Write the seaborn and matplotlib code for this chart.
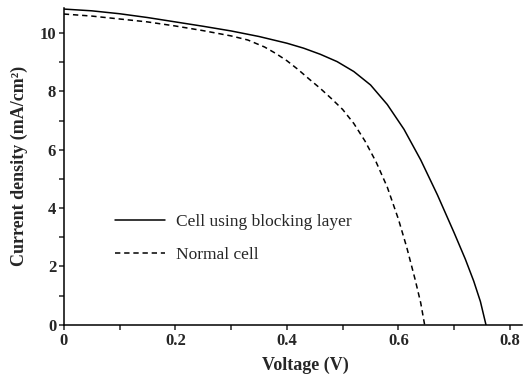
import numpy as np
import pandas as pd
import matplotlib
matplotlib.use('Agg')
import matplotlib.pyplot as plt
import seaborn as sns
from matplotlib.ticker import MultipleLocator, FuncFormatter

# J-V curves
v_block = [0.00, 0.05, 0.10, 0.15, 0.20, 0.25, 0.30, 0.35, 0.40, 0.43, 0.46,
           0.49, 0.52, 0.55, 0.58, 0.61, 0.64, 0.67, 0.70, 0.72, 0.735,
           0.747, 0.757]
j_block = [10.82, 10.76, 10.66, 10.53, 10.38, 10.23, 10.07, 9.88, 9.65, 9.48, 9.27,
           9.02, 8.68, 8.22, 7.55, 6.70, 5.65, 4.45, 3.15, 2.25, 1.50,
           0.80, 0.0]

v_normal = [0.00, 0.05, 0.10, 0.15, 0.20, 0.25, 0.30, 0.33, 0.36, 0.38, 0.40,
            0.42, 0.44, 0.46, 0.48, 0.50, 0.52, 0.54, 0.56, 0.58, 0.60,
            0.615, 0.63, 0.64, 0.647]
j_normal = [10.65, 10.58, 10.48, 10.38, 10.24, 10.08, 9.90, 9.76, 9.52, 9.30, 9.05,
            8.75, 8.42, 8.10, 7.75, 7.38, 6.90, 6.30, 5.58, 4.72, 3.62,
            2.65, 1.55, 0.75, 0.0]

labels = ['Cell using blocking layer', 'Normal cell']

sns.set_style('ticks')
plt.rcParams['font.family'] = ['Liberation Serif', 'DejaVu Serif']

fig = plt.figure(figsize=(5.23, 3.76), dpi=100)
ax = fig.add_axes([0.122, 0.136, 0.876, 0.843])

sns.lineplot(x=v_block, y=j_block, ax=ax, color='black', lw=1.1,
             linestyle='-', label=labels[0], sort=False)
sns.lineplot(x=v_normal, y=j_normal, ax=ax, color='black', lw=1.1,
             linestyle=(0, (3.5, 2.5)), label=labels[1], sort=False)

ax.set_xlim(0, 0.8215)
ax.set_ylim(0, 10.86)
ax.xaxis.set_major_locator(MultipleLocator(0.2))
ax.xaxis.set_minor_locator(MultipleLocator(0.1))
ax.yaxis.set_major_locator(MultipleLocator(2))
ax.yaxis.set_minor_locator(MultipleLocator(1))
ax.xaxis.set_major_formatter(FuncFormatter(lambda v, p: '%g' % round(v, 2)))
ax.tick_params(which='both', direction='out', width=1.1, length=3.5,
               labelsize=12, pad=2)
for t in ax.get_xticklabels() + ax.get_yticklabels():
    t.set_fontweight('bold')

sns.despine(ax=ax)
for s in ['left', 'bottom']:
    ax.spines[s].set_linewidth(1.1)
    ax.spines[s].set_color('black')

ax.set_xlabel('Voltage (V)', fontsize=13, fontweight='bold')
ax.xaxis.set_label_coords(0.528, -0.1)
ax.set_ylabel('Current density (mA/cm²)', fontsize=13, fontweight='bold',
              labelpad=8)

ax.legend(loc='center left', bbox_to_anchor=(0.111, 0.273), frameon=False,
          fontsize=12.5, handlelength=2.9, handletextpad=0.65,
          labelspacing=0.95, borderpad=0, borderaxespad=0)

fig.savefig('out.png', dpi=100)
